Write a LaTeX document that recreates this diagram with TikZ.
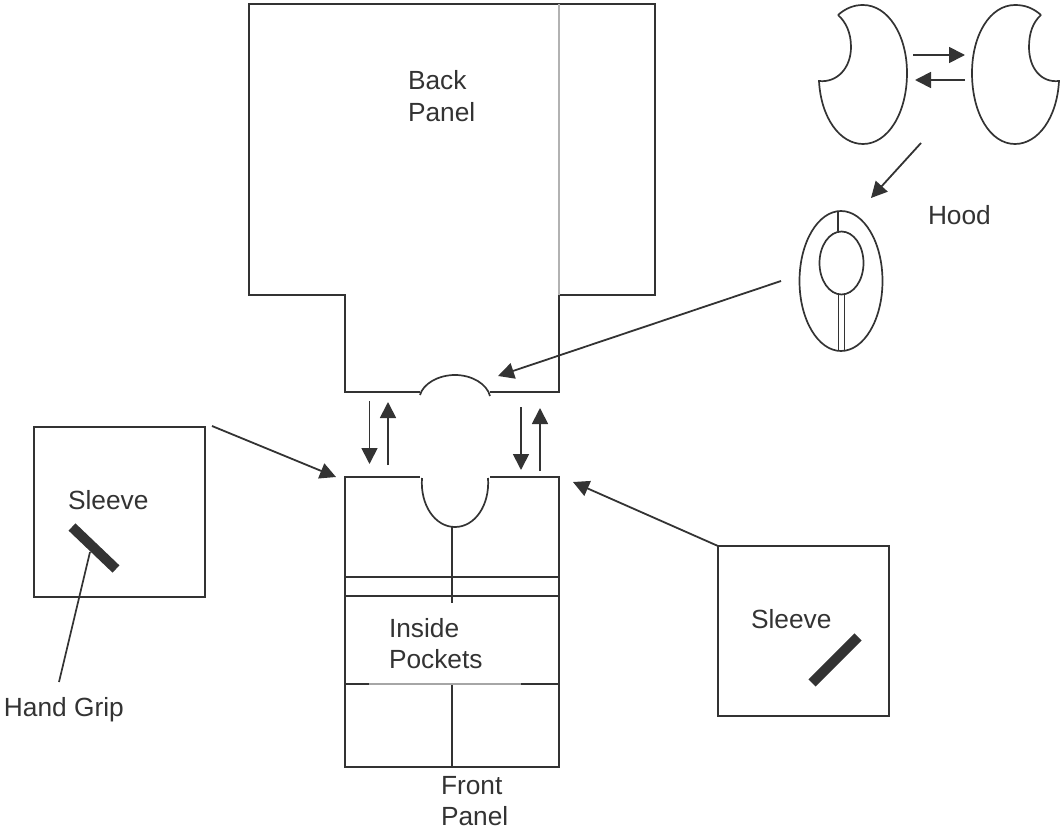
\documentclass[tikz,border=0pt]{standalone}
\usepackage{fontspec}
\setmainfont{Liberation Sans}
\usetikzlibrary{arrows.meta}
\definecolor{ink}{gray}{0.2}
\tikzset{
  x=1pt,y=-1pt,
  outline/.style={draw=ink,line width=2pt,line join=miter},
  thin outline/.style={draw=ink,line width=1.7pt},
  conn/.style={draw=ink,line width=1.8pt,-{Triangle[length=16pt,width=16pt]},shorten >=0pt},
  lbl/.style={text=ink,font=\fontsize{26.3}{31}\selectfont,inner sep=0pt,outer sep=0pt},
  grip/.style={draw=ink,line width=10pt},
}
\begin{document}
\begin{tikzpicture}
\useasboundingbox (0,0) rectangle (1061,832);
% coordinates
\coordinate (hoodA) at (913,55); \coordinate (hoodB) at (965,55);
\coordinate (hoodC) at (965,80); \coordinate (hoodD) at (915,80);
\coordinate (hoodE) at (921,143); \coordinate (hoodF) at (871,198);
\coordinate (hoodOut) at (781,281); \coordinate (neck) at (498,376);
\coordinate (la1) at (369.5,401); \coordinate (la2) at (369.5,464);
\coordinate (lb1) at (388,465); \coordinate (lb2) at (388,402);
\coordinate (ra1) at (521,407); \coordinate (ra2) at (521,470);
\coordinate (rb1) at (540,471); \coordinate (rb2) at (540,408);
\coordinate (slA) at (212,426); \coordinate (slB) at (336,477);
\coordinate (srA) at (718,546); \coordinate (srB) at (573,482);
\coordinate (gripEnd) at (59,682); \coordinate (gripTop) at (90,552);
% back panel
\draw[outline] (490,392) -- (559,392) -- (559,295) -- (655,295) -- (655,4) -- (249,4) -- (249,295) -- (345,295) -- (345,392) -- (420,392);
\draw[draw=gray!60,line width=1.5pt] (559,4) -- (559,295);
\draw[thin outline] (420,395) .. controls (423,384) and (438,375) .. (455,375) .. controls (472,375) and (487,384) .. (490,396);
% front panel
\draw[outline] (420,477) -- (345,477) -- (345,767) -- (559,767) -- (559,477) -- (490,477);
\draw[thin outline] (422,478) .. controls (420,505) and (435,527) .. (455,527) .. controls (475,527) and (490,505) .. (488,478);
\draw[outline] (345,577) -- (559,577);
\draw[outline] (345,596) -- (559,596);
\draw[outline] (452,527) -- (452,603);
\draw[outline] (345,684) -- (369,684);
\draw[draw=gray!70,line width=1.2pt] (369,684) -- (521,684);
\draw[outline] (521,684) -- (559,684);
\draw[outline] (452,685) -- (452,767);
% sleeves
\draw[outline] (34,427) rectangle (205,597);
\draw[outline] (718,546) rectangle (889,716);
\draw[grip] (72,527) -- (116,569);
\draw[grip] (812,683) -- (858,637);
\draw[draw=ink,line width=1.7pt] (gripTop) -- (gripEnd);
% hood pieces
\draw[thin outline] (838,15) .. controls (846,8) and (854,5) .. (863,5)
  .. controls (888,5) and (907,35) .. (907,73)
  .. controls (907,113) and (888,144) .. (863,144)
  .. controls (840,144) and (821,118) .. (819,81)
  .. controls (837,83) and (851,68) .. (851,47)
  .. controls (851,33) and (846,22) .. (838,15);
\draw[thin outline] (1041,15) .. controls (1033,8) and (1025,5) .. (1015,5)
  .. controls (990,5) and (972,35) .. (972,73)
  .. controls (972,113) and (990,144) .. (1015,144)
  .. controls (1038,144) and (1057,118) .. (1059,81)
  .. controls (1041,83) and (1029,68) .. (1029,47)
  .. controls (1029,33) and (1033,22) .. (1041,15);
\draw[thin outline] (841,281) ellipse [x radius=41.5,y radius=70];
\draw[thin outline] (841.5,263) ellipse [x radius=22,y radius=31.5];
\draw[thin outline] (838,212) -- (838,231);
\draw[thin outline] (838.5,294) -- (838.5,351);
\draw[thin outline] (844.5,294) -- (844.5,351);
% arrows
\draw[conn] (hoodA) -- (hoodB);
\draw[conn] (hoodC) -- (hoodD);
\draw[conn] (hoodE) -- (hoodF);
\draw[conn] (hoodOut) -- (neck);
\draw[conn] (la1) -- (la2);
\draw[conn] (lb1) -- (lb2);
\draw[conn] (ra1) -- (ra2);
\draw[conn] (rb1) -- (rb2);
\draw[conn] (slA) -- (slB);
\draw[conn] (srA) -- (srB);
% labels
\node[lbl,anchor=base west] (back) at (408,90) {Back};
\node[lbl,anchor=base west] (panelb) at (408,122) {Panel};
\node[lbl,anchor=base west] (hood) at (928,224) {Hood};
\node[lbl,anchor=base west] (sl) at (68,509) {Sleeve};
\node[lbl,anchor=base west] (sr) at (751,628) {Sleeve};
\node[lbl,anchor=base west] (hg) at (4,716) {Hand Grip};
\node[lbl,anchor=base west] (ins) at (389,637) {Inside};
\node[lbl,anchor=base west] (poc) at (389,668) {Pockets};
\node[lbl,anchor=base west] (fr) at (441,794) {Front};
\node[lbl,anchor=base west] (panf) at (441,825) {Panel};
\end{tikzpicture}
\end{document}
